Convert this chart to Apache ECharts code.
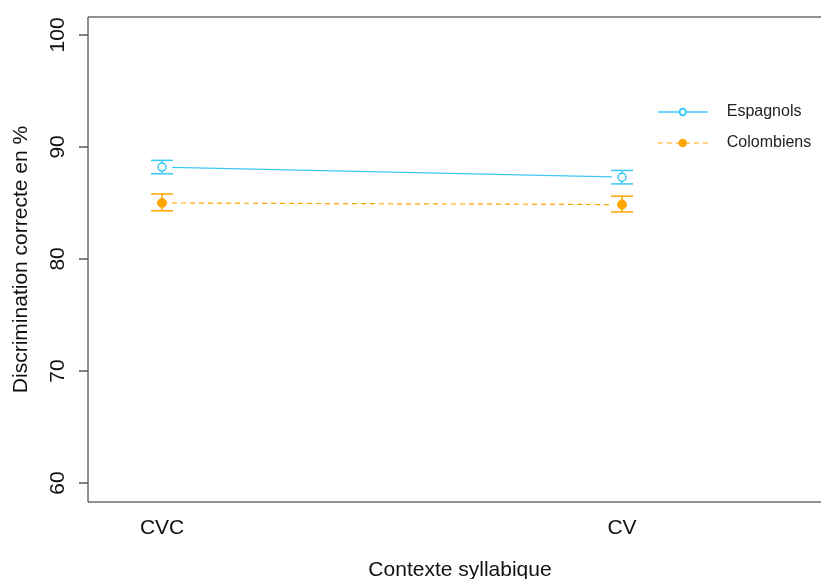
<!DOCTYPE html>
<html>
<head>
<meta charset="utf-8">
<script src="https://cdn.jsdelivr.net/npm/echarts@6/dist/echarts.min.js"></script>
<style>
  html, body { margin: 0; padding: 0; background: #fff; }
  #chart { width: 821px; height: 579px; }
</style>
</head>
<body>
<div id="chart"></div>
<script>
// values
const categories = ['CVC', 'CV']
const espagnolsMean = [88.2, 87.3]
const espagnolsLow = [87.6, 86.7]
const espagnolsHigh = [88.8, 87.9]
const colombiensMean = [85.0, 84.85]
const colombiensLow = [84.3, 84.2]
const colombiensHigh = [85.8, 85.6]
const yTicks = [60, 70, 80, 90, 100]
const xTicks = [1, 2]

const BLUE = '#3CC8F7'
const ORANGE = '#FFA500'
const FONT = 'Liberation Sans, Arial, sans-serif'

const points = (mean) => mean.map((v, i) => [i + 1, v])
const segments = (mean) => mean.slice(1).map((v, i) => [i + 1, mean[i], i + 2, v])
const bars = (mean, lo, hi) => mean.map((v, i) => [i + 1, v, lo[i], hi[i]])

// line between points, leaving a small gap at each end (like R type="b")
const renderSegment = (color, dash) => (params, api) => {
  const a = api.coord([api.value(0), api.value(1)])
  const b = api.coord([api.value(2), api.value(3)])
  const dx = b[0] - a[0], dy = b[1] - a[1]
  const len = Math.sqrt(dx * dx + dy * dy)
  const g = 10 / len
  return {
    type: 'line',
    shape: { x1: a[0] + dx * g, y1: a[1] + dy * g, x2: b[0] - dx * g, y2: b[1] - dy * g },
    style: { stroke: color, lineWidth: 1.2, lineDash: dash },
  }
}

const renderBar = (color) => (params, api) => {
  const x = api.value(0)
  const lo = api.coord([x, api.value(2)])
  const hi = api.coord([x, api.value(3)])
  const w = 11
  const st = { stroke: color, lineWidth: 1.5 }
  return {
    type: 'group',
    children: [
      { type: 'line', shape: { x1: lo[0], y1: lo[1], x2: hi[0], y2: hi[1] }, style: st },
      { type: 'line', shape: { x1: lo[0] - w, y1: lo[1], x2: lo[0] + w, y2: lo[1] }, style: st },
      { type: 'line', shape: { x1: hi[0] - w, y1: hi[1], x2: hi[0] + w, y2: hi[1] }, style: st },
    ],
  }
}

const chart = echarts.init(document.getElementById('chart'))
chart.setOption({
  animation: false,
  backgroundColor: '#fff',
  grid: {
    left: 88, top: 17, bottom: 77, right: -31,
    outerBoundsMode: 'none',
    containLabel: false,
    show: true, borderColor: '#222', borderWidth: 1,
  },
  legend: {
    orient: 'vertical',
    left: 652,
    top: 99,
    itemWidth: 50,
    itemHeight: 8,
    itemGap: 15,
    textStyle: { fontFamily: FONT, fontSize: 16, color: '#222', padding: [0, 0, 0, 14] },
    data: [
      { name: 'Espagnols', lineStyle: { opacity: 1, color: BLUE, width: 1.5, type: 'solid' } },
      { name: 'Colombiens', lineStyle: { opacity: 1, color: ORANGE, width: 1.2, type: [5, 4] } },
    ],
  },
  xAxis: {
    type: 'value',
    min: 0.839,
    max: 2.5,
    name: 'Contexte syllabique',
    nameLocation: 'middle',
    nameGap: 58,
    nameTextStyle: { fontFamily: FONT, fontSize: 21, color: '#111', padding: [0, 20, 0, 0] },
    axisLine: { show: false },
    axisTick: { show: false },
    splitLine: { show: false },
    axisLabel: {
      customValues: xTicks,
      margin: 16,
      fontFamily: FONT,
      fontSize: 21,
      color: '#111',
      formatter: (v) => categories[Math.round(v) - 1] || '',
    },
  },
  yAxis: {
    type: 'value',
    min: 58.3,
    max: 101.6,
    name: 'Discrimination correcte en %',
    nameLocation: 'middle',
    nameGap: 56,
    nameTextStyle: { fontFamily: FONT, fontSize: 21, color: '#111' },
    axisLine: { show: false },
    splitLine: { show: false },
    axisTick: {
      show: true,
      customValues: yTicks,
      length: 9,
      lineStyle: { color: '#555', width: 1.5 },
    },
    axisLabel: {
      customValues: yTicks,
      rotate: 90,
      margin: 19,
      fontFamily: FONT,
      fontSize: 21,
      color: '#111',
    },
  },
  series: [
    {
      type: 'custom',
      name: 'espBars',
      data: bars(espagnolsMean, espagnolsLow, espagnolsHigh),
      renderItem: renderBar(BLUE),
      z: 2,
    },
    {
      type: 'custom',
      name: 'colBars',
      data: bars(colombiensMean, colombiensLow, colombiensHigh),
      renderItem: renderBar(ORANGE),
      z: 2,
    },
    {
      type: 'custom',
      name: 'espLine',
      data: segments(espagnolsMean),
      renderItem: renderSegment(BLUE, null),
      z: 2,
    },
    {
      type: 'custom',
      name: 'colLine',
      data: segments(colombiensMean),
      renderItem: renderSegment(ORANGE, [5, 4]),
      z: 2,
    },
    {
      type: 'line',
      name: 'Espagnols',
      data: points(espagnolsMean),
      symbol: 'circle',
      symbolSize: 8,
      itemStyle: { color: '#fff', borderColor: BLUE, borderWidth: 1.5 },
      lineStyle: { opacity: 0, color: BLUE },
      z: 5,
    },
    {
      type: 'line',
      name: 'Colombiens',
      data: points(colombiensMean),
      symbol: 'circle',
      symbolSize: 9,
      itemStyle: { color: ORANGE, borderColor: ORANGE, borderWidth: 1 },
      lineStyle: { opacity: 0, color: ORANGE },
      z: 5,
    },
  ],
})
</script>
</body>
</html>
